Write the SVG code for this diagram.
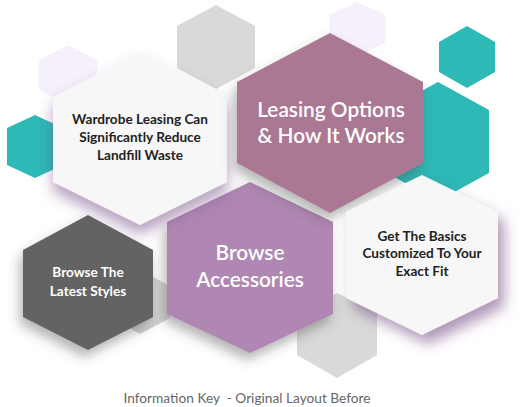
<svg xmlns="http://www.w3.org/2000/svg" width="522" height="407" viewBox="0 0 522 407">
<style>
.deco-gray{fill:#d9d9d9}
.deco-lav{fill:#f6f0fd}
.deco-teal{fill:#2db9b6}
.t-dark{font-family:Lato,"Liberation Sans",sans-serif;font-weight:700;font-size:13.6px;fill:#222;text-anchor:middle}
.t-white-s{font-family:Lato,"Liberation Sans",sans-serif;font-weight:700;font-size:13.6px;fill:#fff;text-anchor:middle}
.t-white-l{font-family:Lato,"Liberation Sans",sans-serif;font-weight:600;font-size:20.8px;fill:#fff;text-anchor:middle}
.foot{font-family:Lato,"Liberation Sans",sans-serif;font-size:13.7px;fill:#666;text-anchor:middle;white-space:pre}
</style>
<defs>
<filter id="shPurple" x="-30%" y="-30%" width="160%" height="170%">
<feDropShadow dx="0" dy="9" stdDeviation="7" flood-color="#6e4380" flood-opacity="0.5"/>
</filter>
<filter id="shPurpleR" x="-30%" y="-30%" width="170%" height="170%">
<feDropShadow dx="6" dy="9" stdDeviation="7" flood-color="#6e4380" flood-opacity="0.55"/>
</filter>
<filter id="shGray" x="-30%" y="-30%" width="160%" height="170%">
<feDropShadow dx="-3" dy="7" stdDeviation="6" flood-color="#444" flood-opacity="0.4"/>
</filter>
</defs>
<rect width="522" height="407" fill="#fff"/>
<g id="decor">
<polygon class="deco-gray" points="216,5 255,26 255,68 216,89 177,68 177,26"/>
<polygon class="deco-lav" points="68,45 97,60 97,90 68,105 39,90 39,60"/>
<polygon class="deco-teal" points="35,115 63,128 63,165 35,178 7,165 7,128"/>
<polygon class="deco-lav" points="357,2 385,15 385,43 357,56 329,43 329,15"/>
<polygon class="deco-teal" points="467,26 495,42 495,72 467,88 439,72 439,42"/>
<polygon class="deco-teal" points="438,82 489,110 489,173 438,201 387,173 387,110"/>
<polygon class="deco-gray" points="337,293 377,313 377,355 337,378 297,355 297,313"/>
<polygon fill="#d3d3d3" points="140,270 170,286 170,318 140,334 110,318 110,286"/>
</g>
<g id="connectors"></g>
<g id="browse-accessories">
<polygon fill="#b087b2" filter="url(#shGray)" points="250,182 333,222 333,314 250,353 167,314 167,222"/>
<text class="t-white-l" x="250" y="260">Browse</text>
<text class="t-white-l" x="250" y="287">Accessories</text>
</g>
<g id="browse-latest">
<polygon fill="#646464" filter="url(#shGray)" points="88,215 153,250 153,317 88,350 23,317 23,250"/>
<text class="t-white-s" x="88" y="277">Browse The</text>
<text class="t-white-s" x="88" y="296">Latest Styles</text>
</g>
<g id="wardrobe-leasing">
<polygon fill="#f7f7f7" filter="url(#shPurple)" points="140,52 227,97 227,182 140,225 53,182 53,97"/>
<text class="t-dark" x="140" y="124">Wardrobe Leasing Can</text>
<text class="t-dark" x="140" y="142">Significantly Reduce</text>
<text class="t-dark" x="140" y="160">Landfill Waste</text>
</g>
<g id="leasing-options">
<polygon fill="#ab7893" filter="url(#shGray)" points="330,33 423,82 423,163 330,213 237,163 237,82"/>
<text class="t-white-l" x="331" y="117">Leasing Options</text>
<text class="t-white-l" x="331" y="143">&amp; How It Works</text>
</g>
<g id="get-basics">
<polygon fill="#f7f7f7" filter="url(#shPurpleR)" points="422,175 498,212 498,298 422,335 346,298 346,212"/>
<text class="t-dark" x="422" y="241">Get The Basics</text>
<text class="t-dark" x="422" y="258">Customized To Your</text>
<text class="t-dark" x="422" y="276">Exact Fit</text>
</g>
<text class="foot" x="247" y="403">Information Key  - Original Layout Before</text>
</svg>
